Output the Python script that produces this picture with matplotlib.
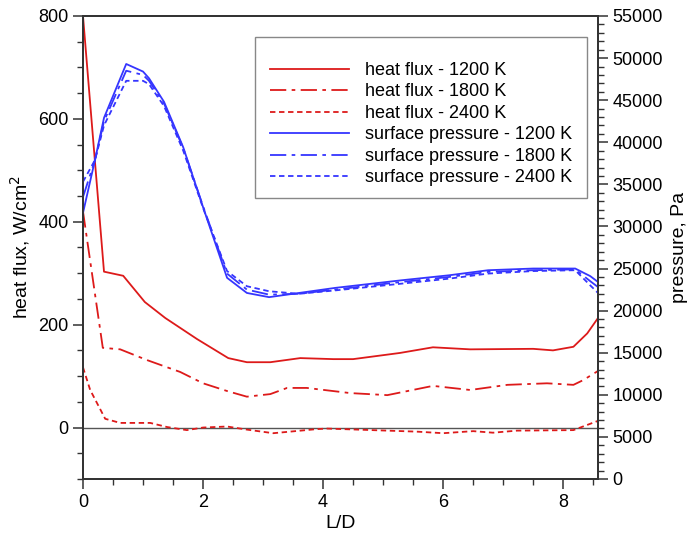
import matplotlib.pyplot as plt
from matplotlib.patches import Rectangle
from matplotlib.ticker import MultipleLocator

plt.rcParams['font.family'] = ['Liberation Sans', 'DejaVu Sans']

# heat flux, W/cm^2
hf1200_x = [0, 0.35, 0.67, 1.03, 1.37, 1.9, 2.42, 2.73, 3.12, 3.62, 4.17, 4.5, 5.28, 5.83, 6.45, 7.5, 7.83, 8.17, 8.4, 8.58]
hf1200 = [800, 303, 295, 244, 213, 172, 135, 127, 127, 135, 133, 133, 145, 156, 152, 153, 150, 157, 183, 213]

hf1800_x = [0, 0.33, 0.62, 1.07, 1.62, 2.0, 2.4, 2.73, 3.12, 3.4, 3.73, 4.45, 5.07, 5.83, 6.45, 7.07, 7.73, 8.17, 8.33, 8.58]
hf1800 = [420, 155, 152, 131, 108, 86, 71, 60, 65, 77, 77, 67, 63, 81, 73, 83, 86, 83, 92, 110]

hf2400_x = [0, 0.12, 0.37, 0.62, 1.12, 1.4, 1.73, 2.0, 2.4, 2.73, 3.17, 3.9, 4.07, 5.57, 6.0, 6.5, 6.83, 7.23, 8.17, 8.58]
hf2400 = [117, 73, 17, 9, 9, 1, -5, 0, 2, -4, -11, -3, -2, -8, -11, -7, -10, -6, -5, 13]

# surface pressure, Pa
p_x = [0, 0.2, 0.35, 0.72, 1.0, 1.1, 1.35, 1.67, 2.0, 2.4, 2.73, 3.1, 3.6, 4.2, 5.3, 6.1, 6.75, 7.5, 8.2, 8.45, 8.58]
p1200 = [31600, 37900, 42900, 49300, 48400, 47600, 44800, 39400, 32300, 23900, 22100, 21600, 22100, 22700, 23600, 24200, 24800, 25000, 25000, 24100, 23400]
p1800 = [33500, 37900, 42500, 48500, 48000, 47300, 44600, 39300, 32400, 24400, 22500, 21900, 22000, 22500, 23400, 24000, 24600, 24800, 24900, 23500, 22800]
p2400 = [35300, 37900, 42000, 47300, 47300, 46900, 44300, 39000, 32200, 24700, 22900, 22300, 22000, 22400, 23200, 23800, 24400, 24700, 24800, 23000, 22100]

red = '#dd1a1a'
blue = '#3535ff'
dashdot = (0, (9, 3, 2, 3))
dotted = (0, (3, 2))

fig = plt.figure(figsize=(6.87, 5.35), dpi=100)
ax = fig.add_axes([0.1208, 0.1047, 0.7497, 0.8654])
ax2 = ax.twinx()

ax.axhline(0, color='#555555', lw=1.0)
l1, = ax.plot(hf1200_x, hf1200, color=red, lw=1.3, label='heat flux - 1200 K')
l2, = ax.plot(hf1800_x, hf1800, color=red, lw=1.3, ls=dashdot, label='heat flux - 1800 K')
l3, = ax.plot(hf2400_x, hf2400, color=red, lw=1.3, ls=dotted, label='heat flux - 2400 K')
l4, = ax2.plot(p_x, p1200, color=blue, lw=1.3, label='surface pressure - 1200 K')
l5, = ax2.plot(p_x, p1800, color=blue, lw=1.3, ls=dashdot, label='surface pressure - 1800 K')
l6, = ax2.plot(p_x, p2400, color=blue, lw=1.3, ls=dotted, label='surface pressure - 2400 K')

ax.set_xlim(0, 8.58)
ax.set_ylim(-100, 800)
ax2.set_ylim(0, 55000)

ax.xaxis.set_major_locator(MultipleLocator(2))
ax.xaxis.set_minor_locator(MultipleLocator(0.5))
ax.yaxis.set_major_locator(MultipleLocator(200))
ax.yaxis.set_minor_locator(MultipleLocator(50))
ax2.yaxis.set_major_locator(MultipleLocator(5000))
ax2.yaxis.set_minor_locator(MultipleLocator(1000))

for a in (ax, ax2):
    for s in a.spines.values():
        s.set_color('#333333')
        s.set_linewidth(1.3)
    a.tick_params(which='major', length=7, width=1.1, color='#333333', labelsize=13)
    a.tick_params(which='minor', length=4, width=1.0, color='#333333')

ax.set_xlabel('L/D', fontsize=14, labelpad=3)
ax.set_ylabel('heat flux, W/cm$^2$', fontsize=14, labelpad=4)
ax2.set_ylabel('pressure, Pa', fontsize=14, labelpad=6)

# legend box drawn separately (more room at top than bottom, like the original)
ax2.add_patch(Rectangle((0.334, 0.607), 0.645, 0.348, transform=ax2.transAxes,
                        facecolor='white', edgecolor='#888888', lw=1.0, zorder=4))
leg = ax2.legend(handles=[l1, l2, l3, l4, l5, l6], loc='upper left',
                 bbox_to_anchor=(0.363, 0.901), fontsize=13,
                 handlelength=4.4, handletextpad=0.85,
                 labelspacing=0.25, borderpad=0, borderaxespad=0,
                 frameon=False)
leg.set_zorder(5)

fig.savefig('out.png', dpi=100)
